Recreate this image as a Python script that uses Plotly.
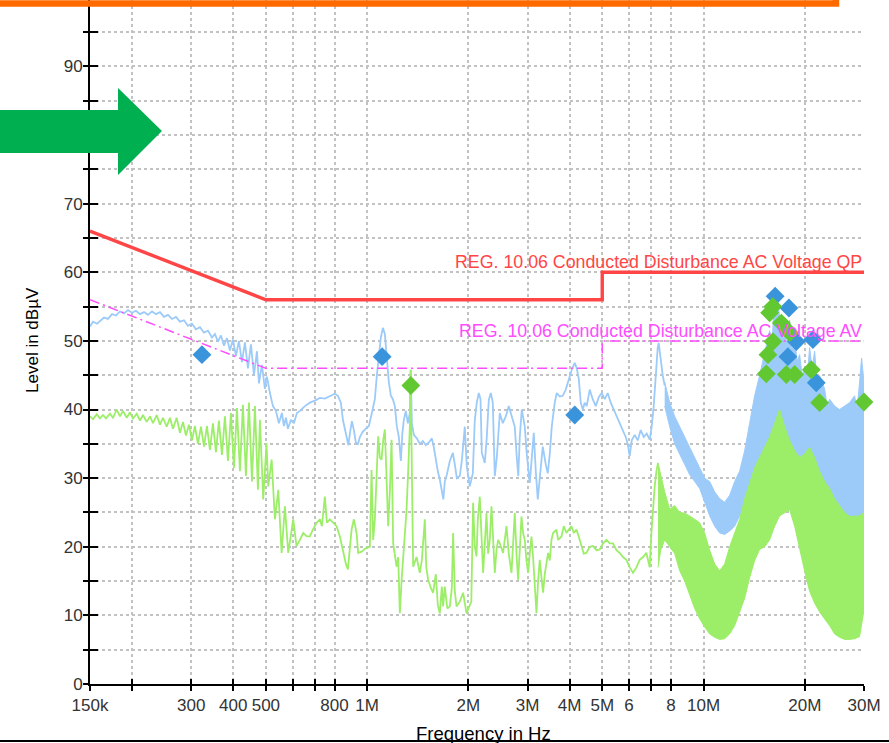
import math
import plotly.graph_objects as go

# ---------------------------------------------------------------
# Conducted emission scan, 150 kHz .. 30 MHz (frequencies in MHz)
# ---------------------------------------------------------------

# Peak detector sweep (line part, below ~7.7 MHz)
PEAK_F_MHZ = [
    0.150, 0.1531, 0.1574, 0.1606, 0.1651, 0.1696, 0.1744, 0.1792, 0.1842, 0.1893,
    0.1946, 0.1999, 0.2055, 0.2112, 0.2171, 0.2231, 0.2293, 0.2357, 0.2422, 0.2489,
    0.2558, 0.2629, 0.2702, 0.2777, 0.2854, 0.2933, 0.3014, 0.3098, 0.3184, 0.3273,
    0.3363, 0.3456, 0.3528, 0.3601, 0.3676, 0.3753, 0.3830, 0.3909, 0.3990, 0.4073,
    0.4157, 0.4244, 0.4332, 0.4422, 0.4514, 0.4608, 0.4703, 0.4768, 0.4866, 0.4967,
    0.5036, 0.5140, 0.5247, 0.5355, 0.5466, 0.5580, 0.5657, 0.5735, 0.5814, 0.5935,
    0.6058, 0.6183, 0.6311, 0.6531, 0.6758, 0.6993, 0.7236, 0.7488, 0.7749, 0.8019,
    0.8185, 0.8355, 0.8471, 0.8587, 0.8705, 0.8795, 0.8885, 0.9008, 0.9132, 0.9257,
    0.9385, 0.9514, 0.9712, 0.9913, 1.0118, 1.0329, 1.0543, 1.0688, 1.0835, 1.0984,
    1.1136, 1.1289, 1.1444, 1.1602, 1.1763, 1.1925, 1.2089, 1.2255, 1.2424, 1.2595,
    1.2725, 1.2857, 1.3033, 1.3213, 1.3395, 1.3487, 1.3580, 1.3767, 1.4053, 1.4343,
    1.4641, 1.4944, 1.5254, 1.5571, 1.5786, 1.6002, 1.6223, 1.6446, 1.6673, 1.6845,
    1.7018, 1.7253, 1.7611, 1.7977, 1.8224, 1.8476, 1.8858, 1.9118, 1.9514, 1.9784,
    2.0193, 2.0613, 2.0896, 2.1184, 2.1475, 2.1730, 2.1921, 2.2376, 2.2684, 2.2996,
    2.3314, 2.3636, 2.3960, 2.4291, 2.4794, 2.5310, 2.5833, 2.6368, 2.6915, 2.7473,
    2.7853, 2.8140, 2.8430, 2.8822, 2.9419, 2.9826, 3.0443, 3.0863, 3.1289, 3.1719,
    3.2157, 3.2598, 3.3276, 3.3964, 3.4434, 3.4906, 3.5388, 3.6121, 3.6620, 3.7378,
    3.8155, 3.8944, 3.9751, 4.0577, 4.1418, 4.1990, 4.2567, 4.3155, 4.3750, 4.4350,
    4.4964, 4.5894, 4.6849, 4.7817, 4.8808, 4.9822, 5.0854, 5.1911, 5.2987, 5.4087,
    5.5208, 5.6350, 5.7522, 5.8711, 5.9523, 6.0340, 6.1173, 6.2440, 6.3737, 6.5059,
    6.6409, 6.7785, 6.9188, 7.0143, 7.1111, 7.2087, 7.3084, 7.3573, 7.4599, 7.5629,
    7.6666,
]
PEAK_DBUV = [
    52.1, 52.8, 52.5, 52.9, 53.4, 53.2, 53.9, 53.7, 54.3, 54.0,
    54.5, 54.1, 54.4, 53.9, 54.2, 53.8, 54.3, 53.9, 54.2, 53.5,
    53.8, 53.2, 53.5, 52.8, 53.0, 52.2, 52.5, 51.7, 52.0, 51.2,
    51.5, 50.5, 51.0, 49.9, 50.8, 49.3, 50.4, 48.6, 50.2, 47.8,
    50.0, 46.9, 49.8, 46.0, 49.5, 45.0, 48.5, 43.8, 46.5, 43.0,
    44.8, 42.4, 40.5, 39.8, 38.0, 39.5, 37.6, 38.8, 37.2, 38.5,
    38.0, 39.5, 39.8, 40.5, 41.0, 41.3, 41.7, 41.6, 42.0, 42.3,
    42.0, 41.0, 38.5, 37.0, 35.8, 34.8, 36.5, 38.3, 37.0, 35.2,
    34.9, 36.0, 36.8, 37.2, 37.6, 39.5, 41.5, 45.0, 48.0, 50.5,
    51.9, 51.0, 47.5, 44.0, 42.0, 41.5, 40.5, 37.5, 36.0, 32.5,
    36.5, 38.5, 39.8, 38.0, 39.5, 45.8, 38.0, 36.3, 35.8, 35.0,
    35.4, 34.8, 35.2, 35.8, 34.5, 32.5, 31.0, 29.8, 28.0, 26.9,
    29.5, 30.5, 32.5, 33.7, 32.0, 30.0, 30.3, 32.5, 37.5, 31.7,
    28.8, 30.7, 38.5, 41.0, 42.4, 41.5, 33.7, 32.2, 36.0, 41.4,
    42.4, 41.0, 30.3, 33.0, 39.5, 38.0, 39.0, 40.5, 39.0, 37.5,
    33.0, 30.3, 36.0, 40.0, 37.5, 33.5, 29.3, 33.0, 36.6, 31.0,
    26.9, 30.0, 34.6, 32.0, 30.7, 33.5, 37.5, 41.0, 42.4, 41.9,
    42.0, 42.9, 44.5, 45.8, 46.8, 46.0, 44.5, 41.0, 40.0, 41.0,
    40.5, 42.9, 41.5, 40.5, 41.8, 42.4, 41.5, 42.4, 41.0, 40.0,
    39.0, 38.0, 37.0, 36.0, 35.0, 33.2, 35.5, 36.3, 35.5, 37.0,
    36.0, 36.5, 35.6, 37.5, 40.5, 45.0, 49.0, 49.7, 47.0, 45.0,
    43.5,
]

# Peak detector above ~7.7 MHz: min / max of the dense sweep per frequency
PEAK_BAND_F_MHZ = [
    7.6666, 7.9334, 8.2096, 8.4951, 8.7907, 9.0967, 9.4133, 9.7409, 10.080, 10.431,
    10.794, 11.169, 11.558, 11.960, 12.376, 12.807, 13.253, 13.714, 14.191, 14.685,
    15.196, 15.725, 16.000, 16.272, 16.496, 16.839, 17.130, 17.425, 17.720, 18.031,
    18.340, 18.659, 18.980, 19.308, 19.640, 19.980, 20.320, 20.675, 21.030, 21.394,
    21.760, 22.139, 22.909, 23.310, 23.707, 24.532, 25.385, 26.268, 27.183, 28.129,
    28.620, 29.108, 29.510, 30.0,
]
PEAK_BAND_MAX = [
    44.0, 41.0, 39.0, 37.5, 36.0, 34.5, 33.0, 31.5, 30.0, 29.5,
    28.0, 27.0, 26.5, 27.5, 29.5, 31.0, 34.0, 38.0, 42.0, 45.0,
    48.5, 51.5, 50.0, 56.5, 57.5, 53.5, 50.0, 52.0, 49.0, 53.0,
    48.5, 50.5, 47.0, 48.0, 45.0, 46.0, 44.5, 49.0, 46.0, 48.5,
    44.0, 45.0, 43.0, 40.5, 41.5, 40.5, 40.0, 40.5, 41.0, 42.0,
    40.0, 44.0, 47.5, 44.0,
]
PEAK_BAND_MIN = [
    40.5, 37.5, 35.0, 33.5, 32.0, 30.5, 29.5, 28.5, 26.5, 24.5,
    23.0, 22.0, 21.8, 22.3, 23.0, 24.5, 26.0, 27.8, 28.5, 29.5,
    31.0, 32.0, 32.5, 33.0, 33.5, 34.0, 34.0, 34.0, 33.5, 33.0,
    32.0, 31.5, 30.5, 29.5, 28.8, 28.0, 27.5, 27.0, 26.5, 26.0,
    25.5, 25.0, 24.0, 23.8, 23.5, 23.0, 22.5, 22.0, 22.0, 22.5,
    22.8, 23.0, 23.5, 23.5,
]

# Average detector sweep (line part, below ~7.3 MHz)
AVG_F_MHZ = [
    0.150, 0.1531, 0.1571, 0.1606, 0.1639, 0.1673, 0.1720, 0.1756, 0.1801, 0.1842,
    0.1880, 0.1929, 0.1972, 0.2013, 0.2065, 0.2112, 0.2156, 0.2211, 0.2262, 0.2309,
    0.2368, 0.2422, 0.2472, 0.2536, 0.2593, 0.2647, 0.2715, 0.2777, 0.2835, 0.2893,
    0.2953, 0.3014, 0.3076, 0.3140, 0.3206, 0.3273, 0.3340, 0.3409, 0.3480, 0.3552,
    0.3625, 0.3701, 0.3778, 0.3857, 0.3936, 0.4018, 0.4101, 0.4186, 0.4273, 0.4361,
    0.4452, 0.4545, 0.4639, 0.4735, 0.4800, 0.4910, 0.5022, 0.5081, 0.5201, 0.5319,
    0.5442, 0.5569, 0.5696, 0.5827, 0.6029, 0.6166, 0.6311, 0.6456, 0.6621, 0.6758,
    0.6899, 0.7076, 0.7236, 0.7336, 0.7488, 0.7591, 0.7749, 0.7910, 0.8113, 0.8298,
    0.8488, 0.8646, 0.8765, 0.8885, 0.8990, 0.9132, 0.9303, 0.9406, 0.9645, 0.9913,
    1.0188, 1.0308, 1.0421, 1.0543, 1.0648, 1.0786, 1.0909, 1.1038, 1.1159, 1.1289,
    1.1422, 1.1549, 1.1682, 1.1820, 1.1949, 1.2231, 1.2368, 1.2509, 1.2657, 1.2795,
    1.2944, 1.3097, 1.3243, 1.3395, 1.3459, 1.3534, 1.3702, 1.4025, 1.4343, 1.4541,
    1.4842, 1.4991, 1.5185, 1.5465, 1.5711, 1.6002, 1.6223, 1.6446, 1.6673, 1.6823,
    1.7018, 1.7313, 1.7611, 1.7854, 1.8014, 1.8224, 1.8439, 1.8858, 1.9290, 1.9744,
    2.0193, 2.0401, 2.0655, 2.0896, 2.1142, 2.1330, 2.1623, 2.1846, 2.2118, 2.2376,
    2.2639, 2.2892, 2.3154, 2.3427, 2.3684, 2.3960, 2.4242, 2.4513, 2.4794, 2.5362,
    2.5960, 2.6368, 2.6862, 2.7157, 2.7473, 2.7797, 2.8108, 2.8430, 2.8765, 2.9081,
    2.9419, 2.9766, 3.0099, 3.0443, 3.0802, 3.1140, 3.1502, 3.1874, 3.2230, 3.2598,
    3.2983, 3.3344, 3.3732, 3.4512, 3.4906, 3.5318, 3.5705, 3.6547, 3.6955, 3.7819,
    3.8417, 3.9135, 3.9751, 4.0497, 4.1138, 4.1906, 4.2567, 4.3365, 4.4050, 4.4873,
    4.5894, 4.6945, 4.8051, 4.9144, 5.0270, 5.1454, 5.2624, 5.3829, 5.5097, 5.6350,
    5.7640, 5.8998, 6.0340, 6.1722, 6.3176, 6.4613, 6.6093, 6.7650, 6.9188, 7.0004,
    7.0772, 7.1596, 7.2439, 7.3249,
]
AVG_DBUV = [
    39.0, 38.6, 39.3, 38.7, 39.2, 38.7, 39.4, 38.8, 40.0, 39.0,
    39.8, 38.8, 39.6, 38.7, 39.4, 38.4, 39.2, 38.2, 39.0, 38.0,
    39.2, 37.8, 38.8, 37.5, 38.8, 37.2, 38.8, 36.6, 38.2, 36.2,
    37.8, 35.5, 37.6, 35.0, 37.5, 34.6, 37.6, 34.1, 38.0, 33.8,
    38.4, 33.4, 39.0, 32.5, 39.5, 31.5, 40.2, 31.0, 40.7, 30.3,
    41.0, 29.5, 40.5, 28.3, 38.5, 26.9, 35.1, 28.8, 32.7, 24.0,
    28.3, 19.1, 25.9, 19.1, 24.0, 20.1, 21.0, 22.0, 21.5, 21.5,
    22.5, 23.5, 24.0, 23.0, 27.3, 23.5, 24.0, 23.5, 23.0, 21.5,
    19.1, 17.5, 16.7, 20.0, 22.5, 24.0, 22.0, 19.1, 19.3, 19.8,
    20.0, 31.2, 21.0, 24.0, 30.0, 36.1, 33.0, 32.7, 35.5, 37.1,
    30.0, 23.0, 28.0, 35.6, 20.5, 17.1, 18.5, 10.3, 15.0, 18.1,
    22.0, 25.4, 31.0, 37.5, 45.8, 36.0, 17.1, 18.5, 16.2, 18.0,
    24.0, 17.0, 15.2, 14.0, 13.3, 16.0, 11.5, 10.3, 14.2, 11.3,
    14.2, 11.0, 11.3, 14.0, 22.0, 13.5, 11.3, 12.0, 13.3, 10.3,
    11.5, 12.0, 26.4, 20.0, 18.6, 24.0, 27.3, 22.0, 16.2, 20.5,
    24.9, 19.0, 21.0, 25.9, 20.0, 16.2, 19.5, 21.0, 20.5, 19.1,
    23.0, 19.0, 16.2, 20.0, 24.9, 19.0, 15.2, 19.5, 24.4, 22.0,
    21.0, 18.0, 16.2, 19.0, 21.5, 18.5, 14.0, 10.3, 15.0, 18.1,
    15.5, 13.3, 16.0, 19.1, 18.0, 21.0, 22.0, 22.5, 21.0, 21.5,
    23.0, 22.0, 22.5, 23.0, 22.0, 22.5, 21.5, 20.1, 19.0, 19.1,
    20.0, 20.1, 19.5, 19.6, 20.5, 21.0, 20.5, 20.5, 19.5, 19.1,
    18.5, 18.1, 17.0, 16.2, 17.0, 18.1, 18.5, 19.1, 17.0, 22.0,
    25.4, 28.8, 31.0, 32.2,
]

# Average detector above ~7.3 MHz: min / max of the dense sweep per frequency
AVG_BAND_F_MHZ = [
    7.3249, 7.4599, 7.6666, 7.9334, 8.2096, 8.4951, 8.7907, 9.0967, 9.4133, 9.7409,
    10.080, 10.431, 10.794, 11.169, 11.558, 11.960, 12.376, 12.807, 13.253, 13.714,
    14.191, 14.685, 15.196, 15.725, 16.272, 16.839, 17.425, 18.031, 18.659, 19.308,
    19.980, 20.675, 21.394, 22.139, 22.909, 23.707, 24.532, 25.385, 26.268, 27.183,
    28.129, 29.108, 30.0,
]
AVG_BAND_MAX = [
    32.2, 30.5, 28.0, 25.5, 26.0, 25.0, 24.9, 24.5, 24.0, 23.5,
    22.0, 19.5, 17.5, 16.5, 17.5, 20.0, 22.0, 24.0, 27.0, 29.3,
    31.5, 33.0, 34.5, 36.0, 38.0, 40.0, 37.5, 35.5, 34.0, 33.0,
    33.5, 34.5, 33.0, 31.0, 29.5, 28.5, 27.0, 26.0, 25.0, 24.4,
    24.5, 24.5, 25.0,
]
AVG_BAND_MIN = [
    17.0, 19.5, 21.0, 20.0, 19.0, 16.5, 15.0, 13.0, 11.0, 9.5,
    8.3, 7.3, 6.8, 6.5, 6.6, 7.3, 8.5, 10.5, 12.5, 15.5,
    18.0, 19.6, 20.0, 21.0, 23.0, 24.5, 25.0, 25.4, 23.0, 20.0,
    16.5, 13.5, 11.8, 10.5, 9.5, 8.5, 7.3, 6.8, 6.5, 6.5,
    6.6, 6.9, 10.8,
]

# Final measurements
QP_F_MHZ = [0.3228, 1.1083, 4.1418, 16.33, 17.945, 18.877, 21.147, 17.82, 21.64]
QP_DBUV = [48.0, 47.7, 39.2, 56.5, 54.8, 49.9, 50.2, 47.7, 43.9]
AV_F_MHZ = [1.3487, 15.375, 15.545, 15.725, 16.08, 16.08, 17.036, 17.63,
            18.031, 18.659, 20.917, 22.139, 30.0]
AV_DBUV = [43.5, 45.2, 48.0, 54.1, 55.0, 49.9, 52.6, 45.1,
           51.2, 45.1, 45.8, 41.0, 41.1]

# Limit lines (REG. 10.06)
LIMIT_F_MHZ = [0.15, 0.5, 5.0, 5.0, 30.0]
LIMIT_QP_DBUV = [66, 56, 56, 60, 60]
LIMIT_AV_DBUV = [56, 46, 46, 50, 50]
LIMIT_QP_TEXT = "REG. 10.06 Conducted Disturbance AC Voltage QP"
LIMIT_AV_TEXT = "REG. 10.06 Conducted Disturbance AC Voltage AV"

# Axis ticks
X_TICK_HZ = [150e3, 200e3, 300e3, 400e3, 500e3, 600e3, 700e3, 800e3, 1e6,
             2e6, 3e6, 4e6, 5e6, 6e6, 7e6, 8e6, 10e6, 20e6, 30e6]
X_TICK_TEXT = ["150k", "", "300", "400", "500", "", "", "800", "1M",
               "2M", "3M", "4M", "5M", "6", "", "8", "10M", "20M", "30M"]
Y_TICKS = list(range(0, 100, 5))
Y_TICK_TEXT = [str(v) if v % 10 == 0 else "" for v in Y_TICKS]

# Styling
PEAK_COLOR = "#9ccbfa"
AVG_COLOR = "#9cee68"
QP_MARK = "#3a94dc"
AV_MARK = "#62c832"
QP_LIMIT = "#ff4545"
AV_LIMIT = "#ff4cff"
FONT = "Arial, Liberation Sans, sans-serif"

X_RANGE = [math.log10(150e3), math.log10(30e6)]
Y_RANGE = [0, 99.68]


def hz(values):
    return [v * 1e6 for v in values]


def band_outline(freqs, upper, lower):
    return hz(freqs + freqs[::-1]), upper + lower[::-1]


fig = go.Figure()

bx, by = band_outline(PEAK_BAND_F_MHZ, PEAK_BAND_MAX, PEAK_BAND_MIN)
fig.add_trace(go.Scatter(x=bx, y=by, mode="lines", fill="toself",
                         fillcolor=PEAK_COLOR,
                         line=dict(color=PEAK_COLOR, width=1)))
fig.add_trace(go.Scatter(x=hz(PEAK_F_MHZ), y=PEAK_DBUV, mode="lines",
                         line=dict(color=PEAK_COLOR, width=1.8)))

bx, by = band_outline(AVG_BAND_F_MHZ, AVG_BAND_MAX, AVG_BAND_MIN)
fig.add_trace(go.Scatter(x=bx, y=by, mode="lines", fill="toself",
                         fillcolor=AVG_COLOR,
                         line=dict(color=AVG_COLOR, width=1)))
fig.add_trace(go.Scatter(x=hz(AVG_F_MHZ), y=AVG_DBUV, mode="lines",
                         line=dict(color=AVG_COLOR, width=1.8)))

fig.add_trace(go.Scatter(x=hz(LIMIT_F_MHZ), y=LIMIT_QP_DBUV, mode="lines",
                         line=dict(color=QP_LIMIT, width=3.4)))
fig.add_trace(go.Scatter(x=hz(LIMIT_F_MHZ), y=LIMIT_AV_DBUV, mode="lines",
                         line=dict(color=AV_LIMIT, width=1.5,
                                   dash="10px,4px,2px,4px")))

fig.add_trace(go.Scatter(x=hz(QP_F_MHZ), y=QP_DBUV, mode="markers",
                         cliponaxis=False,
                         marker=dict(symbol="diamond", size=14.5, color=QP_MARK,
                                     line=dict(width=0))))
fig.add_trace(go.Scatter(x=hz(AV_F_MHZ), y=AV_DBUV, mode="markers",
                         cliponaxis=False,
                         marker=dict(symbol="diamond", size=14.5, color=AV_MARK,
                                     line=dict(width=0))))

# empty trace that carries the inner half of the tick marks
fig.add_trace(go.Scatter(x=[], y=[], xaxis="x2", yaxis="y2"))

for tr in fig.data:
    tr.showlegend = False
    tr.hoverinfo = "skip"

axis_common = dict(
    showline=True, linecolor="black", linewidth=2,
    ticks="outside", ticklen=5, tickwidth=2, tickcolor="black",
    showgrid=True, gridcolor="#c2c2c2", gridwidth=1.5, griddash="3px,3px",
    zeroline=False, tickmode="array",
    tickfont=dict(family=FONT, size=17, color="#333333"),
)

fig.update_layout(
    width=889, height=743,
    margin=dict(l=90, r=25, t=0, b=59, pad=0),
    paper_bgcolor="white", plot_bgcolor="white",
    template="none",
    font=dict(family=FONT),
    xaxis=dict(type="log", range=X_RANGE, tickvals=X_TICK_HZ,
               ticktext=X_TICK_TEXT, **axis_common),
    yaxis=dict(range=Y_RANGE, tickvals=Y_TICKS, ticktext=Y_TICK_TEXT,
               ticklabelstandoff=-3, **axis_common),
    xaxis2=dict(type="log", range=X_RANGE, overlaying="x", anchor="y2",
                tickmode="array", tickvals=X_TICK_HZ, ticks="inside",
                ticklen=5, tickwidth=2, tickcolor="black",
                showticklabels=False, showgrid=False, showline=False,
                zeroline=False),
    yaxis2=dict(range=Y_RANGE, overlaying="y", anchor="x2", side="left",
                tickmode="array", tickvals=Y_TICKS, ticks="inside",
                ticklen=8, tickwidth=2, tickcolor="black",
                showticklabels=False, showgrid=False, showline=False,
                zeroline=False),
    showlegend=False,
)

fig.add_annotation(x=X_RANGE[1], y=LIMIT_QP_DBUV[-1], xref="x", yref="y",
                   text=LIMIT_QP_TEXT, showarrow=False,
                   xanchor="right", yanchor="bottom", yshift=-2,
                   font=dict(family=FONT, size=17.8, color=QP_LIMIT))
fig.add_annotation(x=X_RANGE[1], y=LIMIT_AV_DBUV[-1], xref="x", yref="y",
                   text=LIMIT_AV_TEXT, showarrow=False,
                   xanchor="right", yanchor="bottom", yshift=-2,
                   font=dict(family=FONT, size=17.8, color=AV_LIMIT))

fig.add_annotation(x=-0.0736, y=0.503, xref="paper", yref="paper",
                   text="Level in dBµV", textangle=-90, showarrow=False,
                   xanchor="center", yanchor="middle",
                   font=dict(family=FONT, size=17, color="black"))
fig.add_annotation(x=0.5084, y=-0.0548, xref="paper", yref="paper",
                   text="Frequency in Hz", showarrow=False,
                   xanchor="center", yanchor="top",
                   font=dict(family=FONT, size=18.5, color="black"))

# Orange frame running along the top, green call-out arrow, bottom rule
fig.add_shape(type="rect", xref="paper", yref="paper",
              x0=-0.3, x1=0.9638, y0=0.9949, y1=1.2,
              line=dict(color="#ff6a00", width=6.5), layer="above")
fig.add_shape(type="path", xref="paper", yref="paper",
              path=("M -0.1292,0.8392 L 0.0362,0.8392 L 0.0362,0.8713 "
                    "L 0.0930,0.8085 L 0.0362,0.7442 L 0.0362,0.7763 "
                    "L -0.1292,0.7763 Z"),
              fillcolor="#00b050", line=dict(width=0), layer="above")
fig.add_shape(type="line", xref="paper", yref="paper",
              x0=-0.2, x1=1.1, y0=-0.0833, y1=-0.0833,
              line=dict(color="black", width=2), layer="above")

fig.write_html("out.html")
